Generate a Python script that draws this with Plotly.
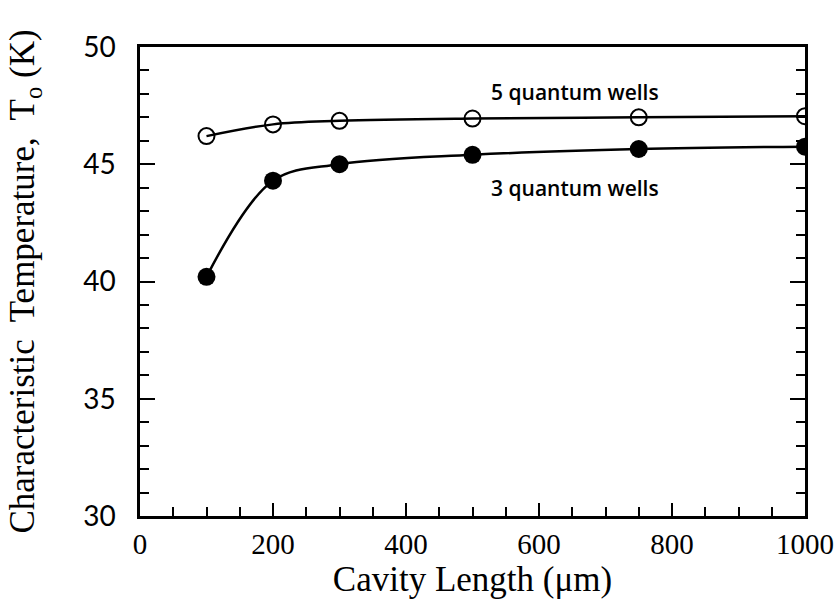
import plotly.graph_objects as go

# Cavity lengths (µm) and characteristic temperatures T0 (K)
cavity_length = [100, 200, 300, 500, 750, 1000]
t0_five_qw = [46.2, 46.7, 46.85, 46.95, 47.0, 47.05]
t0_three_qw = [40.2, 44.3, 45.0, 45.4, 45.65, 45.75]

series_labels = ["5 quantum wells", "3 quantum wells"]

serif = "Liberation Serif, Times New Roman, serif"
sans = "Lato, Open Sans, sans-serif"
ytick_font = dict(family=sans, size=28, color="black")
xtick_font = dict(family=serif, size=29, color="black")
title_font = dict(family=serif, size=35, color="black")
label_font = dict(family="Open Sans, sans-serif", size=21, color="black", weight=600)

fig = go.Figure()

fig.add_trace(go.Scatter(
    x=cavity_length, y=t0_five_qw, mode="lines+markers",
    line=dict(color="black", width=2.5, shape="spline", smoothing=1.0),
    marker=dict(symbol="circle-open", size=16, color="black", line=dict(width=2)),
    showlegend=False,
))
fig.add_trace(go.Scatter(
    x=cavity_length, y=t0_three_qw, mode="lines+markers",
    line=dict(color="black", width=2.5, shape="spline", smoothing=1.0),
    marker=dict(symbol="circle", size=18, color="black"),
    showlegend=False,
))

fig.add_annotation(x=654, y=48.1, text=series_labels[0], showarrow=False, font=label_font)
fig.add_annotation(x=654, y=44.0, text=series_labels[1], showarrow=False, font=label_font)

fig.update_layout(
    width=840, height=601,
    margin=dict(l=140, r=35, t=47, b=85),
    paper_bgcolor="white", plot_bgcolor="white",
    xaxis=dict(
        range=[0, 1000], tickvals=[0, 200, 400, 600, 800, 1000],
        ticks="inside", ticklen=13, tickwidth=2, tickcolor="black",
        minor=dict(dtick=50, ticks="inside", ticklen=9, tickwidth=1.5, tickcolor="black"),
        showline=True, linecolor="black", linewidth=2.5, mirror=True,
        showgrid=False, zeroline=False, automargin=False,
        tickfont=xtick_font, ticklabelstandoff=0,
        title=dict(text="Cavity Length (\u03bcm)", font=title_font, standoff=8),
    ),
    yaxis=dict(
        range=[30, 50], tickvals=[30, 35, 40, 45, 50],
        ticks="inside", ticklen=15, tickwidth=2, tickcolor="black",
        minor=dict(dtick=1, ticks="inside", ticklen=9, tickwidth=1.5, tickcolor="black"),
        showline=True, linecolor="black", linewidth=2.5, mirror="ticks",
        showgrid=False, zeroline=False, automargin=False,
        tickfont=ytick_font, ticklabelstandoff=16,
        title=dict(text="Characteristic  Temperature,  T<sub>o</sub> (K)", font=title_font, standoff=38),
    ),
)

fig.write_html("out.html")
